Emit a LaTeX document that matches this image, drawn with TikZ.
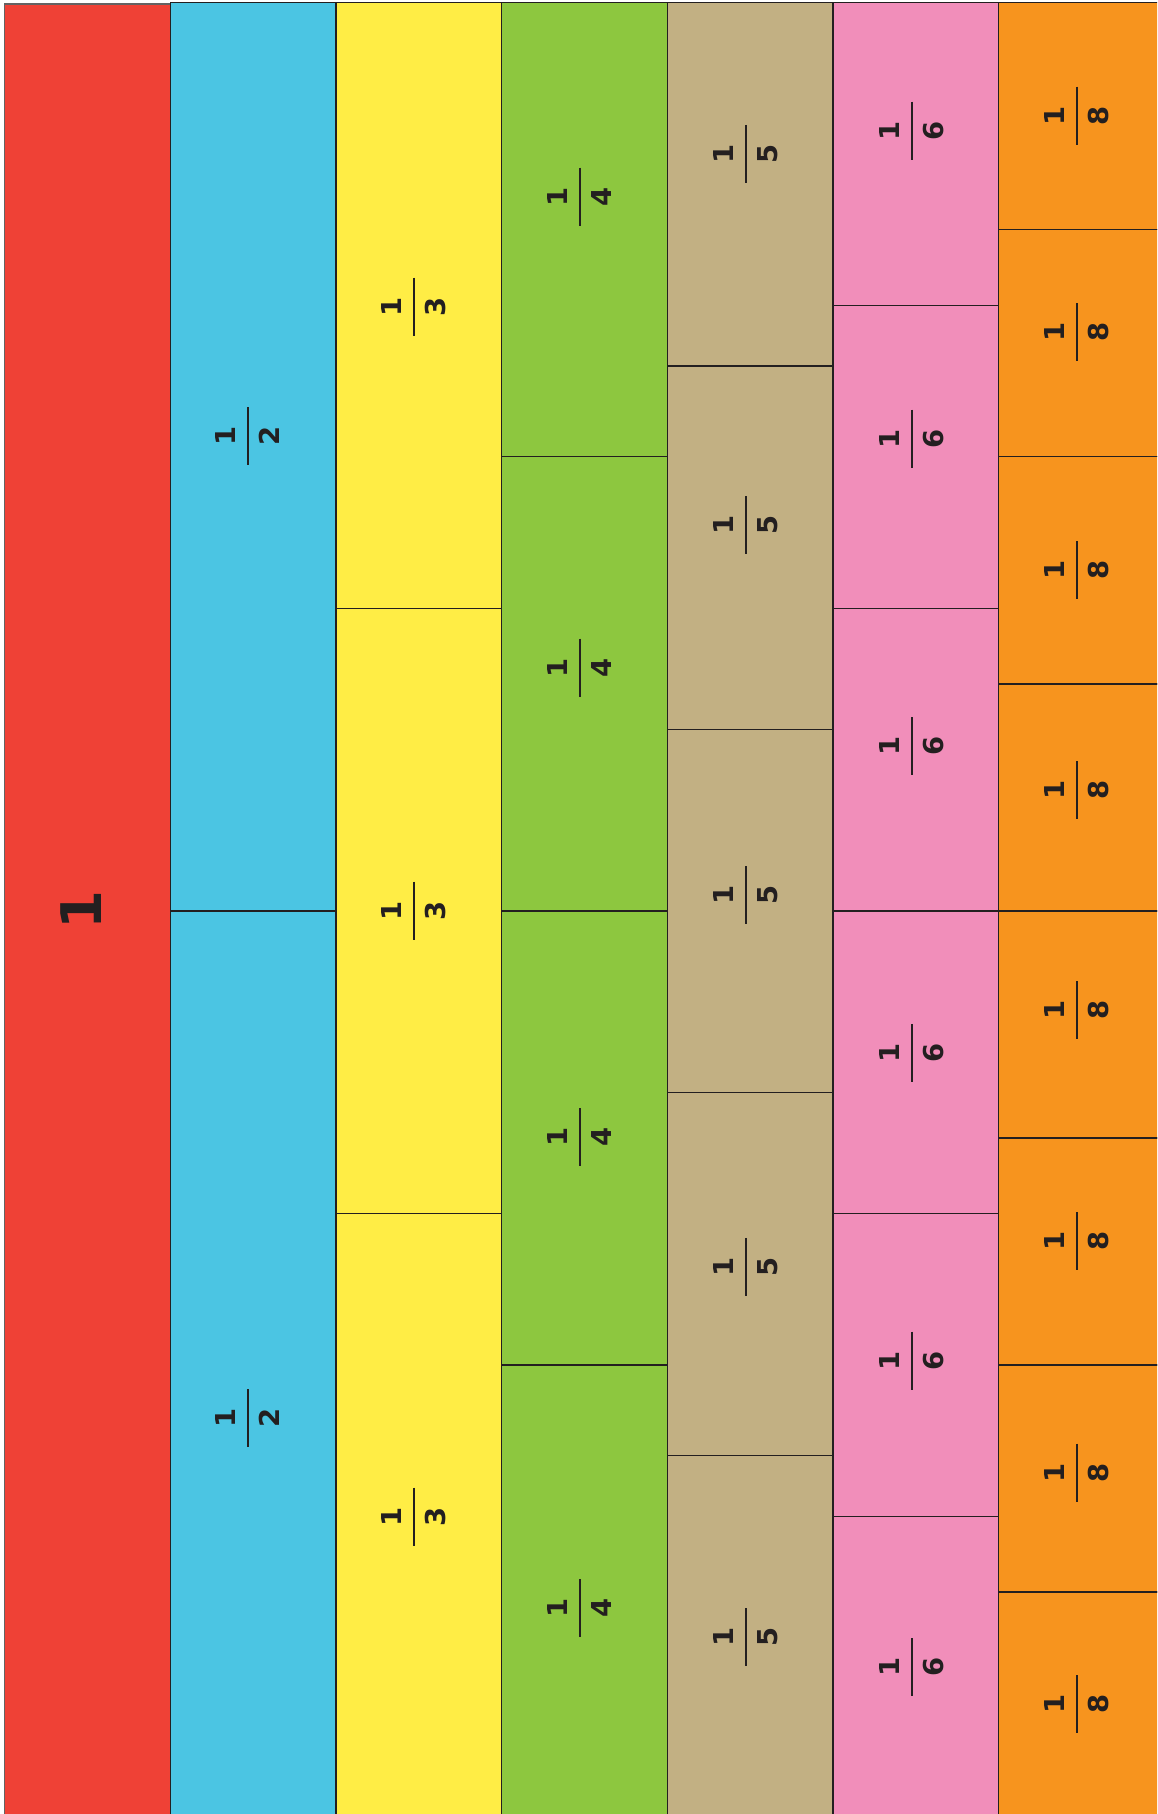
\documentclass[tikz,border=0pt]{standalone}
\usepackage{fontspec}
\setmainfont{DejaVu Sans}
\definecolor{ink}{HTML}{231F20}
\definecolor{cred}{HTML}{EF4136}
\definecolor{cblue}{HTML}{4BC5E3}
\definecolor{cyellow}{HTML}{FFED45}
\definecolor{cgreen}{HTML}{8DC73F}
\definecolor{ctan}{HTML}{C2B083}
\definecolor{cpink}{HTML}{F18EBA}
\definecolor{corange}{HTML}{F7941E}
\newcommand\fraclab[4]{%
  \node[num] (#1n) at ({#2-12.7},{#3}) {1};
  \node[num] (#1d) at ({#2+31.6},{#3}) {#4};
  \draw[fbar] ({#2},{#3-29}) -- ({#2},{#3+29});
}
\begin{document}
\begin{tikzpicture}[x=1pt,y=-1pt,
  cellbox/.style={draw=ink,line width=1.3pt},
  num/.style={font=\bfseries\fontsize{27.4}{30}\selectfont,text=ink,rotate=90,anchor=base,inner sep=0pt},
  bignum/.style={font=\bfseries\fontsize{56}{60}\selectfont,text=ink,rotate=90,anchor=base,inner sep=0pt},
  fbar/.style={draw=ink,line width=2pt}]
\useasboundingbox (0,0) rectangle (1157,1814);
\clip (0,0) rectangle (1157,1814);
% whole
\filldraw[fill=cred,draw=ink!70,line width=1.3pt] (4.6,4) rectangle (170.3,1830);
% fraction columns
\foreach \c/\n/\col in {1/2/cblue,2/3/cyellow,3/4/cgreen,4/5/ctan,5/6/cpink,6/8/corange}{
  \pgfmathsetmacro\xl{4.6+\c*165.7}
  \pgfmathsetmacro\xr{\xl+165.7}
  \pgfmathsetmacro\h{1816.4/\n}
  \foreach \k in {1,...,\n}{
    \pgfmathsetmacro\ya{2.7+(\k-1)*\h}
    \pgfmathsetmacro\yb{\ya+\h}
    \filldraw[fill=\col,cellbox] (\xl,\ya) rectangle (\xr,\yb);
  }
}
% labels
\node[bignum] (whole) at (101.7,910.5) {1};
\fraclab{h1}{247.7}{436.1}{2}
\fraclab{h2}{247.7}{1418.3}{2}
\fraclab{t1}{413.7}{306.6}{3}
\fraclab{t2}{413.7}{910.5}{3}
\fraclab{t3}{413.7}{1516.7}{3}
\fraclab{q1}{579.7}{196.7}{4}
\fraclab{q2}{579.7}{667.5}{4}
\fraclab{q3}{579.7}{1137.2}{4}
\fraclab{q4}{579.7}{1608}{4}
\fraclab{f1}{745.7}{153.9}{5}
\fraclab{f2}{745.7}{525.2}{5}
\fraclab{f3}{745.7}{895.4}{5}
\fraclab{f4}{745.7}{1266.8}{5}
\fraclab{f5}{745.7}{1637}{5}
\fraclab{s1}{911.7}{130.7}{6}
\fraclab{s2}{911.7}{438.5}{6}
\fraclab{s3}{911.7}{746.2}{6}
\fraclab{s4}{911.7}{1052.8}{6}
\fraclab{s5}{911.7}{1360.5}{6}
\fraclab{s6}{911.7}{1667.1}{6}
\fraclab{e1}{1077}{115.7}{8}
\fraclab{e2}{1077}{332}{8}
\fraclab{e3}{1077}{570.3}{8}
\fraclab{e4}{1077}{790.2}{8}
\fraclab{e5}{1077}{1010}{8}
\fraclab{e6}{1077}{1241.3}{8}
\fraclab{e7}{1077}{1472.7}{8}
\fraclab{e8}{1077}{1704.1}{8}
\end{tikzpicture}
\end{document}
